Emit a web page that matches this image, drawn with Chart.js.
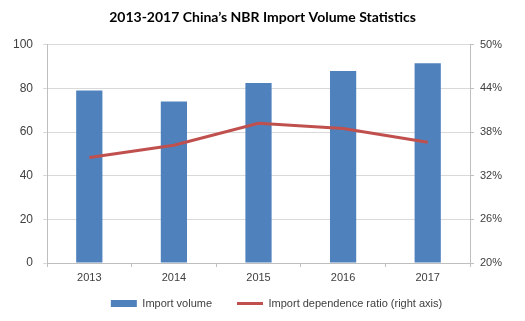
<!DOCTYPE html>
<html>
<head>
<meta charset="utf-8">
<script src="https://cdn.jsdelivr.net/npm/chart.js@4/dist/chart.umd.min.js"></script>
<style>
html,body{margin:0;padding:0;background:#fff;}
#wrap{width:525px;height:321px;position:relative;}
</style>
</head>
<body>
<div id="wrap"><canvas id="c" width="525" height="321"></canvas></div>
<script>
const categories = ["2013", "2014", "2015", "2016", "2017"];
const importVolume = [79, 74, 82.5, 88, 91.5];
const dependenceRatio = [34.5, 36.2, 39.2, 38.5, 36.6];
const leftTicks = [0, 20, 40, 60, 80, 100];
const rightTicks = [20, 26, 32, 38, 44, 50];

const txt = '#404040';
const font = "'Liberation Sans', Arial, sans-serif";

const legendTweak = {
  id: 'legendTweak',
  beforeLayout(chart) {
    const lg = chart.legend;
    if (lg && !lg._wrapped) {
      const f = lg.fit.bind(lg);
      lg.fit = function () { f(); this.height = 36; };
      lg._wrapped = true;
    }
  },
  afterLayout(chart) {
    const lg = chart.legend;
    if (lg) { lg.left += 14; lg.right += 14; lg.top -= 12; lg.bottom -= 12; }
  }
};

new Chart(document.getElementById('c'), {
  data: {
    labels: categories,
    datasets: [
      {
        type: 'line',
        label: 'Import dependence ratio (right axis)',
        data: dependenceRatio,
        yAxisID: 'y1',
        borderColor: '#c0504d',
        backgroundColor: '#c0504d',
        borderWidth: 3,
        pointRadius: 0,
        tension: 0,
        order: 0
      },
      {
        type: 'bar',
        label: 'Import volume',
        data: importVolume,
        yAxisID: 'y',
        backgroundColor: '#4f81bd',
        borderWidth: 0,
        categoryPercentage: 1,
        barPercentage: 0.31,
        order: 1
      }
    ]
  },
  plugins: [legendTweak],
  options: {
    responsive: false,
    animation: false,
    layout: { padding: { top: 0, bottom: 0, left: 0, right: 0 } },
    plugins: {
      title: {
        display: true,
        text: '2013-2017 China\u2019s NBR Import Volume Statistics',
        color: '#000',
        font: { family: "Lato, 'Liberation Sans', sans-serif", size: 14, weight: 'bold' },
        padding: { top: 9, bottom: 19 }
      },
      legend: {
        position: 'bottom',
        reverse: true,
        labels: {
          usePointStyle: true,
          pointStyleWidth: 26,
          boxHeight: 7,
          color: txt,
          padding: 25,
          font: { family: font, size: 11 },
          generateLabels(chart) {
            const items = Chart.defaults.plugins.legend.labels.generateLabels(chart);
            items.forEach(it => {
              const ds = chart.data.datasets[it.datasetIndex];
              if (ds.type === 'line') { it.pointStyle = 'line'; it.lineWidth = 3; it.strokeStyle = '#c0504d'; }
              else { it.pointStyle = 'rect'; it.lineWidth = 0; }
            });
            return items;
          }
        }
      },
      tooltip: { enabled: false }
    },
    scales: {
      x: {
        offset: true,
        grid: { display: true, drawOnChartArea: false, offset: true, tickLength: 4, color: '#bfbfbf' },
        border: { color: '#bfbfbf' },
        ticks: { color: txt, font: { family: font, size: 11 }, padding: 4, autoSkip: false, maxRotation: 0 },
        afterFit(s) { s.height = 22; }
      },
      y: {
        position: 'left',
        min: 0, max: 100,
        afterBuildTicks(s) { s.ticks = leftTicks.map(v => ({ value: v })); },
        grid: { color: '#d9d9d9', tickLength: 4 },
        border: { color: '#bfbfbf' },
        ticks: { color: txt, font: { family: font, size: 12 }, padding: 10 },
        afterFit(s) { s.width = 47; }
      },
      y1: {
        position: 'right',
        min: 20, max: 50,
        afterBuildTicks(s) { s.ticks = rightTicks.map(v => ({ value: v })); },
        grid: { drawOnChartArea: false, color: '#bfbfbf', tickLength: 4 },
        border: { color: '#bfbfbf' },
        ticks: { color: txt, font: { family: font, size: 11 }, padding: 6 , callback: v => v + '%' },
        afterFit(s) { s.width = 55; }
      }
    }
  }
});
</script>
</body>
</html>
